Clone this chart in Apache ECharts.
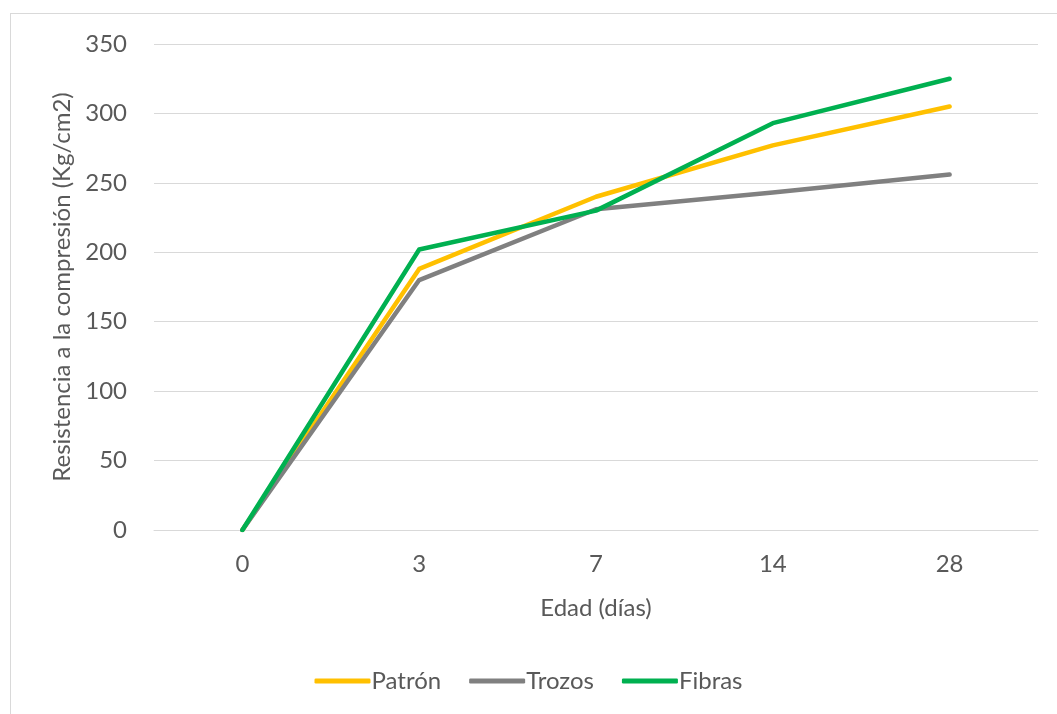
<!DOCTYPE html>
<html><head><meta charset="utf-8">
<script src="https://cdn.jsdelivr.net/npm/echarts@6/dist/echarts.min.js"></script>
<style>html,body{margin:0;padding:0;background:#fff}#c{width:1057px;height:714px}
#frame{position:absolute;left:10px;top:13px;width:1060px;height:720px;border:1px solid #d9d9d9;pointer-events:none}</style>
</head><body><div id="c"></div><div id="frame"></div>
<script>
const categories = ['0', '3', '7', '14', '28'];
const patron = [0, 188, 240, 277, 305];
const trozos = [0, 180, 231, 243, 256];
const fibras = [0, 202, 230, 293, 325];
const yTicks = [0, 50, 100, 150, 200, 250, 300, 350];

const font = 'Lato';
const chart = echarts.init(document.getElementById('c'));
const mk = (name, data, color) => ({
  name, type: 'line', data, symbol: 'none', smooth: false,
  lineStyle: { color, width: 4.5, cap: 'round', join: 'round' },
  itemStyle: { color }
});
chart.setOption({
  animation: false,
  grid: { left: 154, right: 19, top: 44, bottom: 184 },
  legend: {
    bottom: 16, left: 'center', itemWidth: 56, itemHeight: 5, itemGap: 28,
    icon: 'roundRect',
    textStyle: { color: '#595959', fontSize: 24, fontFamily: font, padding: [0, 0, 0, -4] },
    data: ['Patrón', 'Trozos', 'Fibras']
  },
  xAxis: {
    type: 'category', data: categories, boundaryGap: true,
    name: 'Edad (días)', nameLocation: 'middle', nameGap: 66,
    nameTextStyle: { color: '#595959', fontSize: 24, fontFamily: font },
    axisLine: { show: true, lineStyle: { color: '#d9d9d9', width: 1 } },
    axisTick: { show: false },
    axisLabel: { color: '#595959', fontSize: 24, fontFamily: font, margin: 22 }
  },
  yAxis: {
    type: 'value', min: 0, max: 350, interval: 50,
    name: 'Resistencia a la compresión (Kg/cm2)', nameLocation: 'middle', nameGap: 80,
    nameTextStyle: { color: '#595959', fontSize: 24, fontFamily: font },
    axisLine: { show: false }, axisTick: { show: false },
    axisLabel: { color: '#595959', fontSize: 24, fontFamily: font, margin: 27,
      formatter: v => yTicks.includes(v) ? String(v) : '' },
    splitLine: { lineStyle: { color: '#d9d9d9', width: 1 } }
  },
  series: [mk('Patrón', patron, '#FFC000'), mk('Trozos', trozos, '#808080'), mk('Fibras', fibras, '#00B050')]
});
</script></body></html>
